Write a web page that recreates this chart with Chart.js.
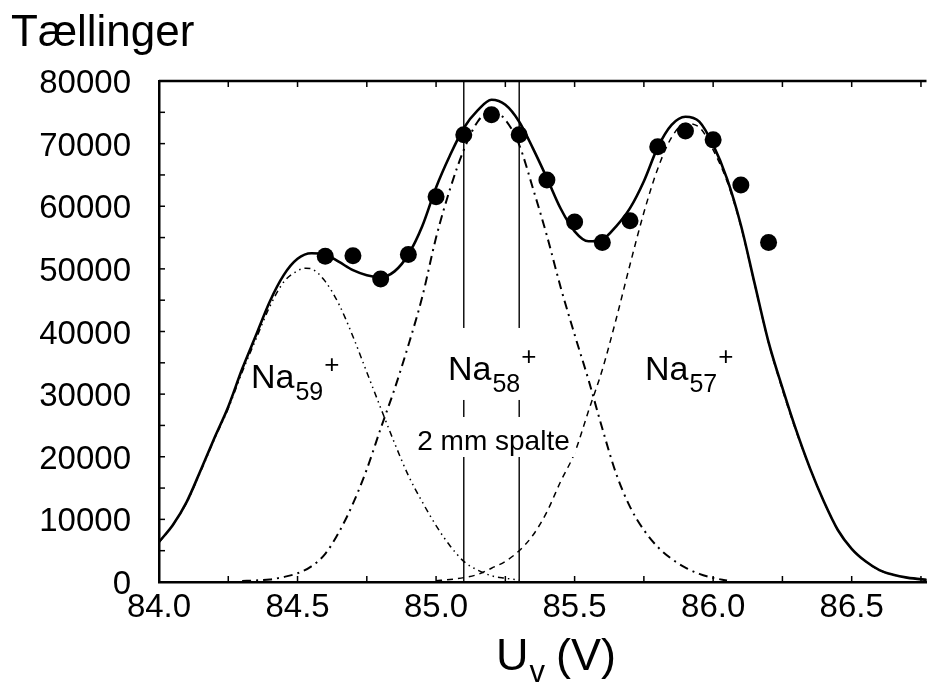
<!DOCTYPE html>
<html>
<head>
<meta charset="utf-8">
<script src="https://cdn.jsdelivr.net/npm/chart.js@4.4.1/dist/chart.umd.min.js"></script>
<style>
  html, body { margin: 0; padding: 0; background: #fff; }
</style>
</head>
<body>
<canvas id="myChart" width="935" height="683"></canvas>
<script>
// measured counts (dots)
const measX = [84.6, 84.7, 84.8, 84.9, 85.0, 85.1, 85.2, 85.3, 85.4, 85.5, 85.6, 85.7, 85.8, 85.9, 86.0, 86.1, 86.2];
const measY = [52000, 52100, 48400, 52300, 61500, 71400, 74600, 71400, 64200, 57500, 54200, 57700, 69500, 72000, 70600, 63400, 54200];

// fitted sum (solid)
const sumX = [84.0, 84.05, 84.1, 84.15, 84.2, 84.25, 84.3, 84.35, 84.4, 84.45, 84.5, 84.55, 84.6, 84.65, 84.7, 84.75, 84.8, 84.85, 84.9, 84.95,
  85.0, 85.05, 85.1, 85.15, 85.2, 85.25, 85.3, 85.35, 85.4, 85.45, 85.5, 85.55, 85.6, 85.65, 85.7, 85.75, 85.8, 85.85, 85.9, 85.95,
  86.0, 86.05, 86.1, 86.15, 86.2, 86.25, 86.3, 86.35, 86.4, 86.45, 86.5, 86.55, 86.6, 86.65, 86.7, 86.78];
const sumY = [6400, 9100, 12800, 17800, 23000, 28000, 34000, 39400, 44800, 49000, 51600, 52500, 52300, 51100, 49800, 49000, 48700, 49600, 52300, 56800,
  63000, 68100, 72500, 75300, 77000, 76200, 73500, 69200, 64500, 59600, 56000, 54400, 54700, 56800, 59700, 64000, 69400, 73000, 74300, 73500,
  69800, 64400, 57000, 47600, 38300, 31000, 24200, 18100, 12800, 8300, 5300, 3300, 1900, 1150, 700, 300];

// Na59+ component (dash-dot-dot)
const na59X = [84.0, 84.05, 84.1, 84.15, 84.2, 84.25, 84.3, 84.35, 84.4, 84.45, 84.5, 84.53, 84.55, 84.6, 84.65, 84.7, 84.75, 84.8, 84.85, 84.9,
  84.95, 85.0, 85.05, 85.1, 85.15, 85.2, 85.25, 85.3];
const na59Y = [6350, 9050, 12700, 17600, 22800, 27700, 33500, 38800, 44000, 47900, 49700, 50100, 50000, 48000, 44300, 39200, 33500, 27800, 22200, 17000,
  12800, 9000, 5800, 3300, 1900, 1000, 600, 300];

// Na58+ component (dash-dot)
const na58X = [84.3, 84.35, 84.4, 84.45, 84.5, 84.55, 84.6, 84.65, 84.7, 84.75, 84.8, 84.85, 84.9, 84.95, 85.0, 85.05, 85.1, 85.15, 85.2, 85.25,
  85.3, 85.35, 85.4, 85.45, 85.5, 85.55, 85.6, 85.65, 85.7, 85.75, 85.8, 85.85, 85.9, 85.95, 86.0, 86.05];
const na58Y = [150, 250, 400, 800, 1400, 2500, 4500, 8000, 12500, 18000, 24500, 30800, 37800, 45500, 55000, 62700, 69000, 73500, 75300, 73800,
  69800, 62800, 55300, 47000, 39500, 32300, 24500, 17300, 12000, 8300, 5600, 3700, 2300, 1300, 650, 250];

// Na57+ component (dashed)
const na57X = [85.0, 85.05, 85.1, 85.15, 85.2, 85.25, 85.3, 85.35, 85.4, 85.45, 85.5, 85.55, 85.6, 85.65, 85.7, 85.75, 85.8, 85.85, 85.9, 85.95,
  86.0, 86.05, 86.1, 86.15, 86.2, 86.25, 86.3, 86.35, 86.4, 86.45, 86.5, 86.55, 86.6, 86.65, 86.7, 86.78];
const na57Y = [200, 400, 700, 1200, 2200, 3300, 5000, 7500, 11200, 16100, 20600, 27300, 33900, 42000, 50700, 59000, 66000, 71000, 73200, 72600,
  69000, 64000, 56800, 47500, 38200, 30700, 24000, 18100, 12800, 8300, 5300, 3300, 1900, 1150, 700, 300];

// 2 mm slit edges
const slitX = [85.1, 85.3];

const xTickLabels = [84.0, 84.5, 85.0, 85.5, 86.0, 86.5];
const yTickLabels = [0, 10000, 20000, 30000, 40000, 50000, 60000, 70000, 80000];

// peak labels: [name, subscript, x, y, white backing]
const peakLabels = [
  ['Na', '59', 84.332, 30980, false],
  ['Na', '58', 85.043, 32260, true],
  ['Na', '57', 85.754, 32260, false]
];

const FONT = "'Liberation Sans', Arial, Helvetica, sans-serif";

function toPoints(xs, ys) {
  return xs.map((x, i) => ({ x: x, y: ys[i] }));
}

function curve(xs, ys, width, dash) {
  return {
    data: toPoints(xs, ys),
    showLine: true,
    borderColor: '#000',
    borderWidth: width,
    borderDash: dash,
    pointRadius: 0,
    cubicInterpolationMode: 'monotone',
    fill: false
  };
}

const slitData = slitX.map(x => ({
  data: [{ x: x, y: 0 }, { x: x, y: 80000 }],
  showLine: true,
  borderColor: '#000',
  borderWidth: 1.4,
  pointRadius: 0
}));

const framePlugin = {
  id: 'frame',
  afterDatasetsDraw(chart) {
    const ctx = chart.ctx;
    const a = chart.chartArea;
    const xs = chart.scales.x;
    const ys = chart.scales.y;
    ctx.save();
    ctx.strokeStyle = '#000';
    ctx.fillStyle = '#000';

    // top line
    ctx.lineWidth = 2.5;
    ctx.beginPath();
    ctx.moveTo(a.left, a.top);
    ctx.lineTo(a.right, a.top);
    ctx.stroke();

    // inward ticks
    ctx.lineWidth = 1.5;
    for (let v = 84.0; v <= 86.8; v += 0.25) {
      const px = xs.getPixelForValue(v);
      ctx.beginPath();
      ctx.moveTo(px, a.bottom); ctx.lineTo(px, a.bottom - 6);
      ctx.moveTo(px, a.top); ctx.lineTo(px, a.top + 6);
      ctx.stroke();
    }
    for (let v = 0; v <= 80000; v += 5000) {
      const py = ys.getPixelForValue(v);
      ctx.beginPath();
      ctx.moveTo(a.left, py); ctx.lineTo(a.left + 6, py);
      ctx.stroke();
    }

    // peak labels
    ctx.textBaseline = 'alphabetic';
    ctx.textAlign = 'left';
    peakLabels.forEach(([name, sub, vx, vy, backed]) => {
      const px = xs.getPixelForValue(vx);
      const py = ys.getPixelForValue(vy);
      ctx.font = '34px ' + FONT;
      const w1 = ctx.measureText(name).width;
      ctx.font = '25px ' + FONT;
      const w2 = ctx.measureText(sub).width;
      if (backed) {
        ctx.fillStyle = '#fff';
        ctx.fillRect(px - 4, py - 52, w1 + w2 + 22, 72);
      }
      ctx.fillStyle = '#000';
      ctx.font = '34px ' + FONT;
      ctx.fillText(name, px, py);
      ctx.font = '25px ' + FONT;
      ctx.fillText(sub, px + w1 + 1, py + 12);
      ctx.font = '26px ' + FONT;
      ctx.fillText('+', px + w1 + w2 + 2, py - 15);
    });

    // slit label
    const sx = xs.getPixelForValue(84.932);
    const sy = ys.getPixelForValue(21080);
    ctx.font = '28px ' + FONT;
    const sw = ctx.measureText('2 mm spalte').width;
    ctx.fillStyle = '#fff';
    ctx.fillRect(sx - 6, sy - 33, sw + 12, 40);
    ctx.fillStyle = '#000';
    ctx.fillText('2 mm spalte', sx, sy);

    // y title
    ctx.font = '44px ' + FONT;
    ctx.fillText('Tællinger', 11, 46);

    // x title U_v (V)
    ctx.font = '45px ' + FONT;
    const ux = 496;
    ctx.fillText('U', ux, 670);
    const uw = ctx.measureText('U').width;
    ctx.font = '31px ' + FONT;
    ctx.fillText('v', ux + uw + 1, 682);
    const vw = ctx.measureText('v').width;
    ctx.font = '45px ' + FONT;
    ctx.fillText('(V)', ux + uw + vw + 12, 670);

    ctx.restore();
  }
};

const ctx = document.getElementById('myChart').getContext('2d');
const myChart = new Chart(ctx, {
  type: 'scatter',
  data: {
    datasets: [
      {
        data: toPoints(measX, measY),
        pointRadius: 8.5,
        pointBackgroundColor: '#000',
        pointBorderColor: '#000',
        pointBorderWidth: 0,
        showLine: false
      },
      curve(sumX, sumY, 2.6, []),
      curve(na59X, na59Y, 1.5, [6, 4, 1.5, 4, 1.5, 4]),
      curve(na58X, na58Y, 2, [9, 5, 2, 5]),
      curve(na57X, na57Y, 1.5, [6, 5]),
      ...slitData
    ]
  },
  options: {
    responsive: false,
    animation: false,
    events: [],
    layout: { padding: { top: 81, right: 0, left: 0, bottom: 0 } },
    plugins: { legend: { display: false }, tooltip: { enabled: false } },
    scales: {
      x: {
        type: 'linear',
        min: 84,
        max: 86.77,
        grid: { display: false },
        border: { display: true, color: '#000', width: 2.5 },
        afterBuildTicks: s => { s.ticks = xTickLabels.map(v => ({ value: v })); },
        afterFit: s => { s.height = 101; },
        ticks: {
          color: '#000',
          padding: -2,
          maxRotation: 0,
          font: { family: FONT, size: 33 },
          callback: v => v.toFixed(1)
        }
      },
      y: {
        type: 'linear',
        min: 0,
        max: 80000,
        grid: { display: false },
        border: { display: true, color: '#000', width: 2.5 },
        afterBuildTicks: s => { s.ticks = yTickLabels.map(v => ({ value: v })); },
        afterFit: s => { s.width = 159; },
        ticks: {
          color: '#000',
          padding: 20,
          labelOffset: 3,
          font: { family: FONT, size: 33 },
          callback: v => String(v)
        }
      }
    }
  },
  plugins: [framePlugin]
});
</script>
</body>
</html>
